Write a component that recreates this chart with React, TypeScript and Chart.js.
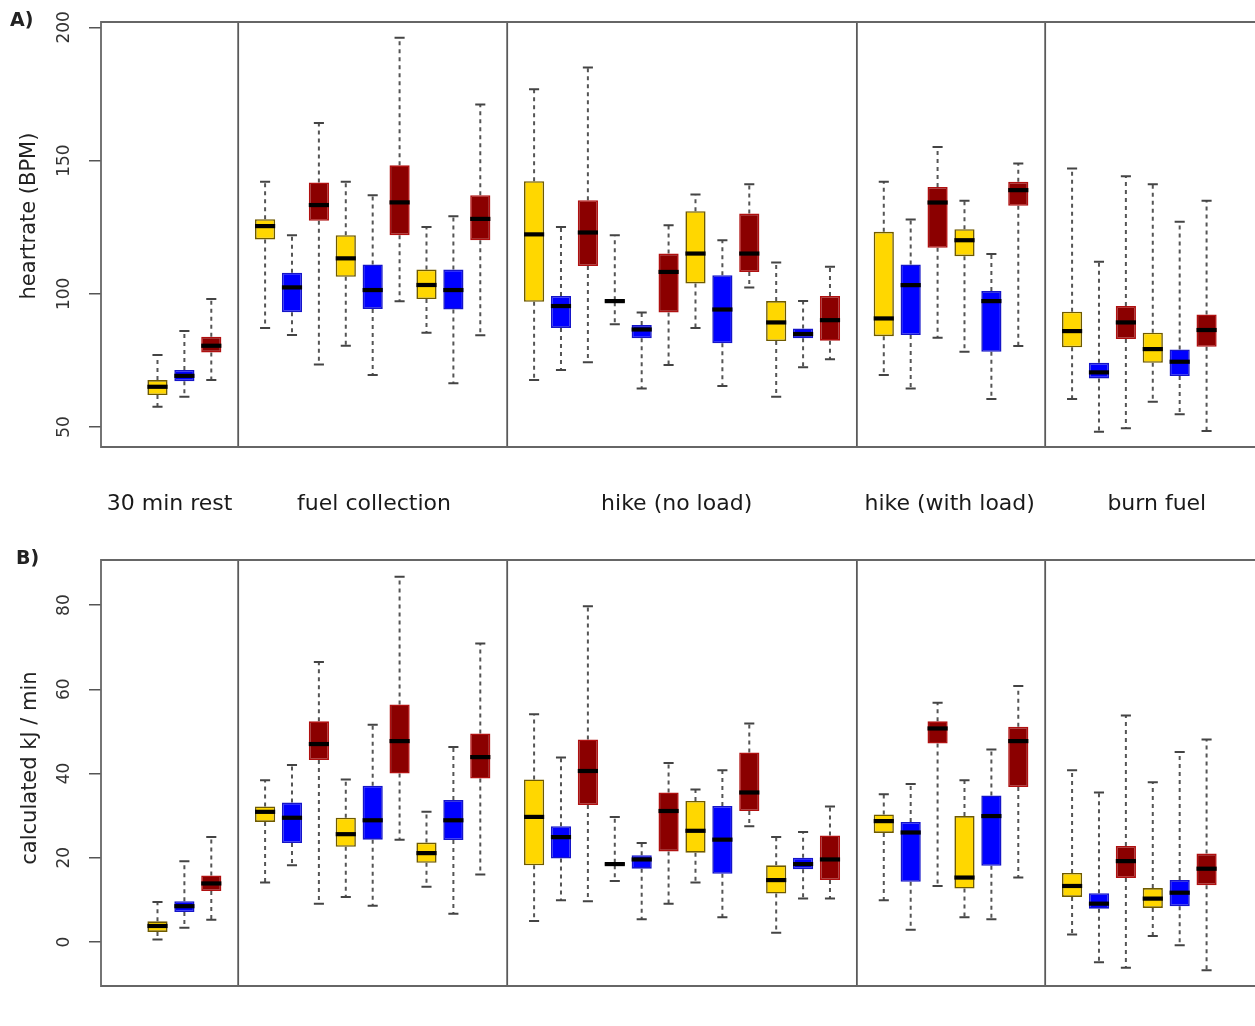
import React, { useEffect, useRef } from 'react';
import { Chart, registerables } from 'chart.js';

Chart.register(...registerables);

// ---------- data ----------
const groups = ['30 min rest', 'fuel collection', 'hike (no load)', 'hike (with load)', 'burn fuel'];
const groupSizes = [3, 9, 12, 6, 6];
const groupLabelAt = [1.45, 9.05, 20.3, 30.45, 38.15];
const seriesColors = ['#FFD700', '#0000FF', '#8B0000'];
const seriesBorders = ['#6e5a00', '#1515c8', '#b01010'];

// A) heart rate (BPM)
const hrLow = [57.6, 61.4, 67.6, 87.2, 84.5, 73.5, 80.5, 69.5, 97.2, 85.4, 66.4, 84.4, 67.6, 71.4, 74.3, 88.6, 64.5, 73.25, 87.2, 65.4, 102.4, 61.4, 72.4, 75.4, 69.5, 64.5, 83.5, 78.25, 60.5, 80.4, 60.5, 48.25, 49.5, 59.5, 54.75, 48.5];
const hrQ1 = [62, 67.2, 78, 120.4, 93.1, 127.4, 106.4, 94.3, 122, 98, 94.1, 120.1, 97, 87.2, 110.4, 96.8, 83.3, 93, 103.9, 81.4, 108.2, 82.25, 83.3, 82.4, 84.1, 84.5, 117.25, 114.1, 78.25, 133, 79.9, 68.25, 83, 74.1, 69.1, 80.1];
const hrMed = [65.1, 69.2, 80.5, 125.4, 102.4, 133.3, 113.3, 101.4, 134.3, 103.3, 101.4, 128.1, 122.3, 95.4, 123, 97.25, 86.6, 108.2, 115.1, 94.1, 115.1, 89.25, 84.9, 90.1, 90.75, 103.25, 134.25, 120.1, 97.25, 138.9, 86, 70.5, 89.25, 79.25, 74.5, 86.4];
const hrQ3 = [67.6, 71.4, 83.9, 128, 107.9, 141.8, 122, 111, 148.2, 109.1, 109.1, 137, 142.25, 99.2, 135.1, 97.6, 88.25, 115.1, 131, 107, 130.1, 97.25, 87, 99.2, 123.25, 111, 140.1, 124.25, 101, 142, 93.25, 74.1, 95.4, 85.4, 79.1, 92.25];
const hrHigh = [77, 86, 98, 142, 122, 164.1, 142, 137, 196.1, 125.1, 129.1, 171, 176.75, 125.1, 184.9, 122, 93, 125.75, 137.25, 120.1, 141.1, 111.75, 97.25, 110.1, 142, 127.9, 155.1, 134.9, 114.9, 148.9, 147, 112, 144.1, 141.1, 127, 134.9];
const hrTicks = [50, 100, 150, 200];

// B) calculated kJ / min
const kjLow = [0.6, 3.4, 5.3, 14.1, 18.2, 9.1, 10.7, 8.6, 24.3, 13.1, 6.7, 16, 5, 9.9, 9.7, 14.5, 5.4, 9.1, 14.1, 5.9, 27.5, 2.2, 10.3, 10.3, 9.9, 2.9, 13.3, 5.9, 5.4, 15.3, 1.8, -4.8, -6.1, 1.4, -0.8, -6.7];
const kjQ1 = [2.4, 7.1, 12.1, 28.5, 23.5, 43.2, 22.6, 24.3, 40, 18.8, 24.2, 38.8, 18.2, 19.8, 32.5, 18.2, 17.4, 21.5, 21.2, 16.2, 31.1, 11.5, 17.3, 14.7, 25.9, 14.3, 47.1, 12.7, 18.1, 36.8, 10.7, 7.9, 15.2, 8.1, 8.5, 13.5];
const kjMed = [3.8, 8.5, 13.9, 30.9, 29.5, 47, 25.6, 28.9, 47.7, 21.1, 28.9, 43.9, 29.7, 24.9, 40.6, 18.5, 19.6, 31.1, 26.4, 24.3, 35.5, 14.7, 18.5, 19.6, 28.7, 26, 50.7, 15.3, 29.9, 47.7, 13.3, 9.1, 19.2, 10.3, 11.7, 17.4];
const kjQ3 = [4.9, 9.7, 15.8, 32.2, 33.1, 52.4, 29.5, 37.1, 56.4, 23.6, 33.7, 49.5, 38.6, 27.5, 48.1, 18.8, 20.6, 35.5, 33.5, 32.3, 45, 18.2, 20, 25.3, 30.3, 28.5, 52.4, 29.9, 34.8, 51.1, 16.4, 11.6, 22.8, 12.8, 14.7, 21];
const kjHigh = [9.5, 19.2, 24.9, 38.4, 42, 66.5, 38.6, 51.6, 86.7, 30.9, 46.3, 70.9, 54.1, 43.8, 79.7, 29.7, 23.5, 42.5, 36.2, 40.8, 51.9, 24.9, 26.1, 32.2, 35.1, 37.5, 56.8, 38.4, 45.7, 60.8, 40.8, 35.5, 53.8, 37.9, 45.1, 48.1];
const kjTicks = [0, 20, 40, 60, 80];

// ---------- box positions (one empty slot between groups holds the separator) ----------
const positions: number[] = [];
const separators: number[] = [];
{
  let p = 1;
  groupSizes.forEach((n) => {
    for (let i = 0; i < n; i++) positions.push(p + i);
    separators.push(p + n);
    p += n + 1;
  });
  separators.pop();
}

const FONT = "'DejaVu Sans', 'Liberation Sans', sans-serif";

const boxPlugin = {
  id: 'boxExtras',
  beforeDatasetsDraw(chart: any, _args: any, opts: any) {
    const { ctx, chartArea } = chart;
    const ys = chart.scales.y;
    const meta = chart.getDatasetMeta(0);
    ctx.save();
    ctx.beginPath();
    ctx.rect(chartArea.left, chartArea.top, chartArea.right - chartArea.left, chartArea.bottom - chartArea.top);
    ctx.clip();
    meta.data.forEach((bar: any, i: number) => {
      const cx = bar.x;
      const w = bar.width;
      const pHigh = ys.getPixelForValue(opts.high[i]);
      const pLow = ys.getPixelForValue(opts.low[i]);
      const pQ3 = ys.getPixelForValue(opts.q3[i]);
      const pQ1 = ys.getPixelForValue(opts.q1[i]);
      ctx.strokeStyle = '#555';
      ctx.lineWidth = 2;
      ctx.setLineDash([4, 4]);
      ctx.beginPath();
      ctx.moveTo(cx, pQ3);
      ctx.lineTo(cx, pHigh);
      ctx.moveTo(cx, pQ1);
      ctx.lineTo(cx, pLow);
      ctx.stroke();
      ctx.setLineDash([]);
      ctx.lineWidth = 2;
      ctx.strokeStyle = '#444';
      ctx.beginPath();
      ctx.moveTo(cx - w / 4, pHigh);
      ctx.lineTo(cx + w / 4, pHigh);
      ctx.moveTo(cx - w / 4, pLow);
      ctx.lineTo(cx + w / 4, pLow);
      ctx.stroke();
    });
    ctx.restore();
  },
  afterDatasetsDraw(chart: any, _args: any, opts: any) {
    const { ctx, chartArea } = chart;
    const xs = chart.scales.x;
    const ys = chart.scales.y;
    const meta = chart.getDatasetMeta(0);
    ctx.save();
    // medians
    meta.data.forEach((bar: any, i: number) => {
      const cx = bar.x;
      const w = bar.width;
      const pm = ys.getPixelForValue(opts.med[i]);
      ctx.strokeStyle = '#000';
      ctx.lineWidth = 4.2;
      ctx.beginPath();
      ctx.moveTo(cx - w / 2, pm);
      ctx.lineTo(cx + w / 2, pm);
      ctx.stroke();
    });
    // separators
    ctx.strokeStyle = '#5a5a5a';
    ctx.lineWidth = 1.8;
    separators.forEach((s) => {
      const px = xs.getPixelForValue(s);
      ctx.beginPath();
      ctx.moveTo(px, chartArea.top);
      ctx.lineTo(px, chartArea.bottom);
      ctx.stroke();
    });
    // frame (right side lies beyond the picture)
    ctx.strokeStyle = '#666';
    ctx.lineWidth = 1.8;
    ctx.beginPath();
    ctx.moveTo(chartArea.right + 5, chartArea.top);
    ctx.lineTo(chartArea.left, chartArea.top);
    ctx.lineTo(chartArea.left, chartArea.bottom);
    ctx.lineTo(chartArea.right + 5, chartArea.bottom);
    ctx.stroke();
    ctx.restore();
  },
  afterDraw(chart: any, _args: any, opts: any) {
    const { ctx } = chart;
    const ys = chart.scales.y;
    ctx.save();
    ctx.fillStyle = '#333';
    ctx.font = `17px ${FONT}`;
    ctx.textAlign = 'center';
    ctx.textBaseline = 'middle';
    ys.ticks.forEach((t: any) => {
      const py = ys.getPixelForValue(t.value);
      ctx.save();
      ctx.translate(opts.tickLabelX, py);
      ctx.rotate(-Math.PI / 2);
      ctx.fillText(String(t.value), 0, 0);
      ctx.restore();
    });
    ctx.fillStyle = '#222';
    ctx.font = `21px ${FONT}`;
    ctx.save();
    ctx.translate(opts.titleX, opts.titleY);
    ctx.rotate(-Math.PI / 2);
    ctx.fillText(opts.title, 0, 0);
    ctx.restore();
    ctx.font = `bold 19px ${FONT}`;
    ctx.textAlign = 'left';
    ctx.fillText(opts.panelLabel, opts.panelLabelX, opts.panelLabelY);
    ctx.restore();
  },
};

function makeConfig(p: any): any {
  return {
    type: 'bar',
    data: {
      datasets: [
        {
          data: positions.map((x, i) => ({ x, y: [p.q1[i], p.q3[i]] })),
          backgroundColor: positions.map((_, i) => seriesColors[i % 3]),
          borderColor: positions.map((_, i) => seriesBorders[i % 3]),
          borderWidth: 1.6,
          borderSkipped: false,
          barPercentage: 0.75,
          categoryPercentage: 1,
          grouped: false,
        },
      ],
    },
    options: {
      animation: false,
      responsive: false,
      devicePixelRatio: 1,
      layout: { padding: { top: p.padTop, left: 0, right: 0, bottom: 0 } },
      plugins: {
        legend: { display: false },
        tooltip: { enabled: false },
        boxExtras: {
          low: p.low, q1: p.q1, med: p.med, q3: p.q3, high: p.high,
          title: p.title, titleX: p.titleX, titleY: p.titleY,
          panelLabel: p.panelLabel, panelLabelX: p.panelLabelX, panelLabelY: p.panelLabelY,
          tickLabelX: 65,
        },
      },
      scales: {
        x: {
          type: 'linear',
          min: -1.1,
          max: 41.8,
          offset: false,
          grid: { display: false },
          border: { display: false },
          afterBuildTicks: (s: any) => {
            s.ticks = groupLabelAt.map((v) => ({ value: v }));
          },
          ticks: {
            display: p.showGroups,
            autoSkip: false,
            maxRotation: 0,
            minRotation: 0,
            padding: 36,
            color: '#1a1a1a',
            font: { family: FONT, size: 22 },
            callback: (_v: any, i: number) => groups[i],
          },
          afterFit: (s: any) => {
            s.height = p.xHeight;
          },
        },
        y: {
          type: 'linear',
          min: p.yMin,
          max: p.yMax,
          afterBuildTicks: (s: any) => {
            s.ticks = p.ticks.map((v: number) => ({ value: v }));
          },
          grid: { drawOnChartArea: false, drawTicks: true, tickLength: 12, color: '#555', lineWidth: 1.5 },
          border: { display: false },
          ticks: { display: false },
          afterFit: (s: any) => {
            s.width = 101;
          },
        },
      },
    },
    plugins: [boxPlugin],
  };
}

export default function App() {
  const refA = useRef<HTMLCanvasElement>(null);
  const refB = useRef<HTMLCanvasElement>(null);
  useEffect(() => {
    document.body.style.margin = '0';
    const a = new Chart(
      refA.current as HTMLCanvasElement,
      makeConfig({
        low: hrLow, q1: hrQ1, med: hrMed, q3: hrQ3, high: hrHigh,
        yMin: 42.5, yMax: 202, ticks: hrTicks,
        title: 'heartrate (BPM)', titleX: 30, titleY: 216,
        panelLabel: 'A)', panelLabelX: 10, panelLabelY: 21,
        padTop: 22, xHeight: 83, showGroups: true,
      })
    );
    const b = new Chart(
      refB.current as HTMLCanvasElement,
      makeConfig({
        low: kjLow, q1: kjQ1, med: kjMed, q3: kjQ3, high: kjHigh,
        yMin: -10.45, yMax: 90.7, ticks: kjTicks,
        title: 'calculated kJ / min', titleX: 31, titleY: 238,
        panelLabel: 'B)', panelLabelX: 16, panelLabelY: 29,
        padTop: 30, xHeight: 40, showGroups: false,
      })
    );
    return () => {
      a.destroy();
      b.destroy();
    };
  }, []);
  return (
    <div style={{ position: 'relative', width: 1255, height: 1026, background: '#fff', overflow: 'hidden' }}>
      <canvas ref={refA} width={1255} height={530} style={{ position: 'absolute', left: 0, top: 0 }} />
      <canvas ref={refB} width={1255} height={496} style={{ position: 'absolute', left: 0, top: 530 }} />
    </div>
  );
}
